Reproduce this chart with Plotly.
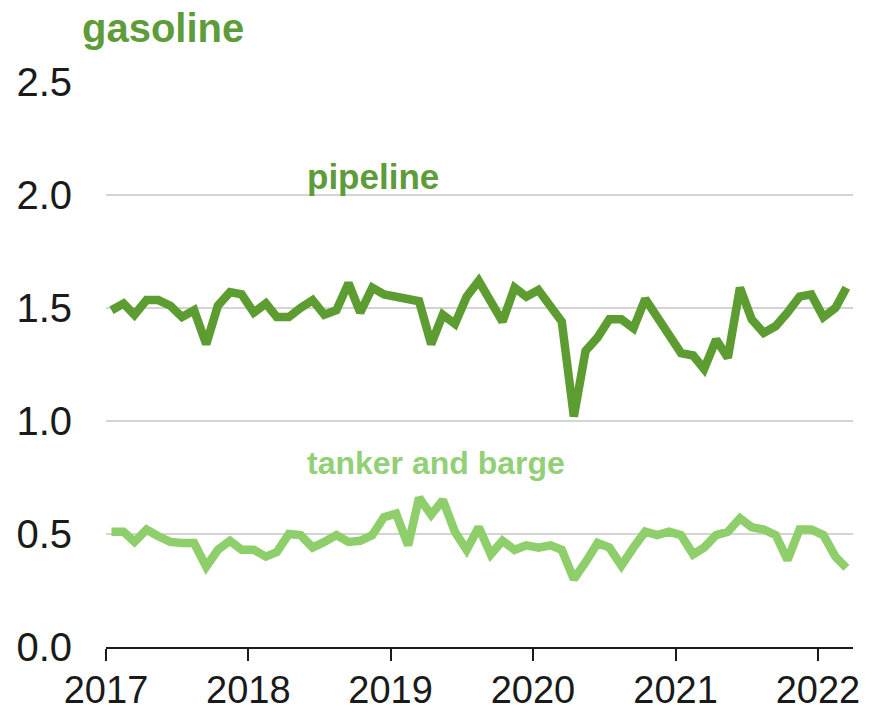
import plotly.graph_objects as go
import pandas as pd

months = pd.date_range("2017-01-01", periods=63, freq="MS") + pd.Timedelta(days=14)

pipeline = [1.49, 1.52, 1.47, 1.535, 1.535, 1.51, 1.46, 1.49, 1.34, 1.51, 1.57, 1.56,
            1.48, 1.52, 1.46, 1.46, 1.50, 1.535, 1.47, 1.49, 1.61, 1.48, 1.59, 1.56,
            1.55, 1.54, 1.53, 1.34, 1.47, 1.43, 1.55, 1.62, 1.535, 1.44, 1.59, 1.55,
            1.58, 1.51, 1.44, 1.02, 1.31, 1.37, 1.45, 1.45, 1.41, 1.54, 1.46, 1.38,
            1.30, 1.29, 1.23, 1.36, 1.28, 1.59, 1.45, 1.39, 1.42, 1.48, 1.55, 1.56,
            1.46, 1.50, 1.59]

tanker_barge = [0.51, 0.51, 0.465, 0.52, 0.49, 0.465, 0.46, 0.46, 0.355, 0.43, 0.47, 0.43,
                0.43, 0.40, 0.42, 0.50, 0.495, 0.44, 0.465, 0.495, 0.465, 0.47, 0.495, 0.575,
                0.59, 0.45, 0.66, 0.585, 0.65, 0.51, 0.43, 0.53, 0.41, 0.47, 0.43, 0.45,
                0.44, 0.45, 0.43, 0.30, 0.375, 0.46, 0.44, 0.36, 0.44, 0.51, 0.495, 0.51,
                0.495, 0.41, 0.44, 0.495, 0.51, 0.57, 0.53, 0.52, 0.495, 0.385, 0.52, 0.52,
                0.495, 0.40, 0.35]

year_ticks = ["2017-01-01", "2018-01-01", "2019-01-01", "2020-01-01", "2021-01-01", "2022-01-01"]
year_labels = ["2017", "2018", "2019", "2020", "2021", "2022"]
y_ticks = [0, 0.5, 1.0, 1.5, 2.0, 2.5]
y_labels = ["0.0", "0.5", "1.0", "1.5", "2.0", "2.5"]

dark = "#5c9c31"
light = "#8ecf6b"

fig = go.Figure()
fig.add_trace(go.Scatter(x=months, y=pipeline, mode="lines",
                         line=dict(color=dark, width=8.5), name="pipeline"))
fig.add_trace(go.Scatter(x=months, y=tanker_barge, mode="lines",
                         line=dict(color=light, width=8.5), name="tanker and barge"))

fig.update_layout(
    width=869, height=713,
    margin=dict(l=106, r=16, t=82, b=66, autoexpand=False),
    paper_bgcolor="white", plot_bgcolor="white",
    showlegend=False,
    font=dict(family="Arial, Liberation Sans, sans-serif", color="#1a1a1a"),
)
fig.update_xaxes(
    range=["2017-01-01", "2022-04-01"],
    tickvals=year_ticks, ticktext=year_labels,
    tickfont=dict(size=38),
    showgrid=False, showline=True, linecolor="#1a1a1a", linewidth=2,
    ticks="outside", ticklen=12, tickwidth=2, tickcolor="#1a1a1a",
    ticklabelstandoff=-4, zeroline=False, automargin=False,
)
fig.update_yaxes(
    range=[0, 2.5],
    tickvals=y_ticks, ticktext=y_labels,
    tickfont=dict(size=40),
    showgrid=True, gridcolor="#d4d4d4", gridwidth=2,
    zeroline=False, showline=False,
    ticks="outside", ticklen=25, tickcolor="rgba(0,0,0,0)", automargin=False,
)

fig.add_annotation(text="<b>gasoline</b>", xref="paper", yref="paper",
                   x=-0.035, y=1.0956, xanchor="left", yanchor="middle",
                   showarrow=False, font=dict(size=40, color="#5e9b3a"))
fig.add_annotation(text="<b>pipeline</b>", xref="paper", yref="paper",
                   x=0.2664, y=0.832, xanchor="left", yanchor="middle",
                   showarrow=False, font=dict(size=35, color="#5e9b3a"))
fig.add_annotation(text="<b>tanker and barge</b>", xref="paper", yref="paper",
                   x=0.2664, y=0.3257, xanchor="left", yanchor="middle",
                   showarrow=False, font=dict(size=32, color="#92cf76"))

fig.write_html("out.html", config={"displayModeBar": False},
               post_script="document.body.style.margin='0';document.body.style.overflow='hidden';")
